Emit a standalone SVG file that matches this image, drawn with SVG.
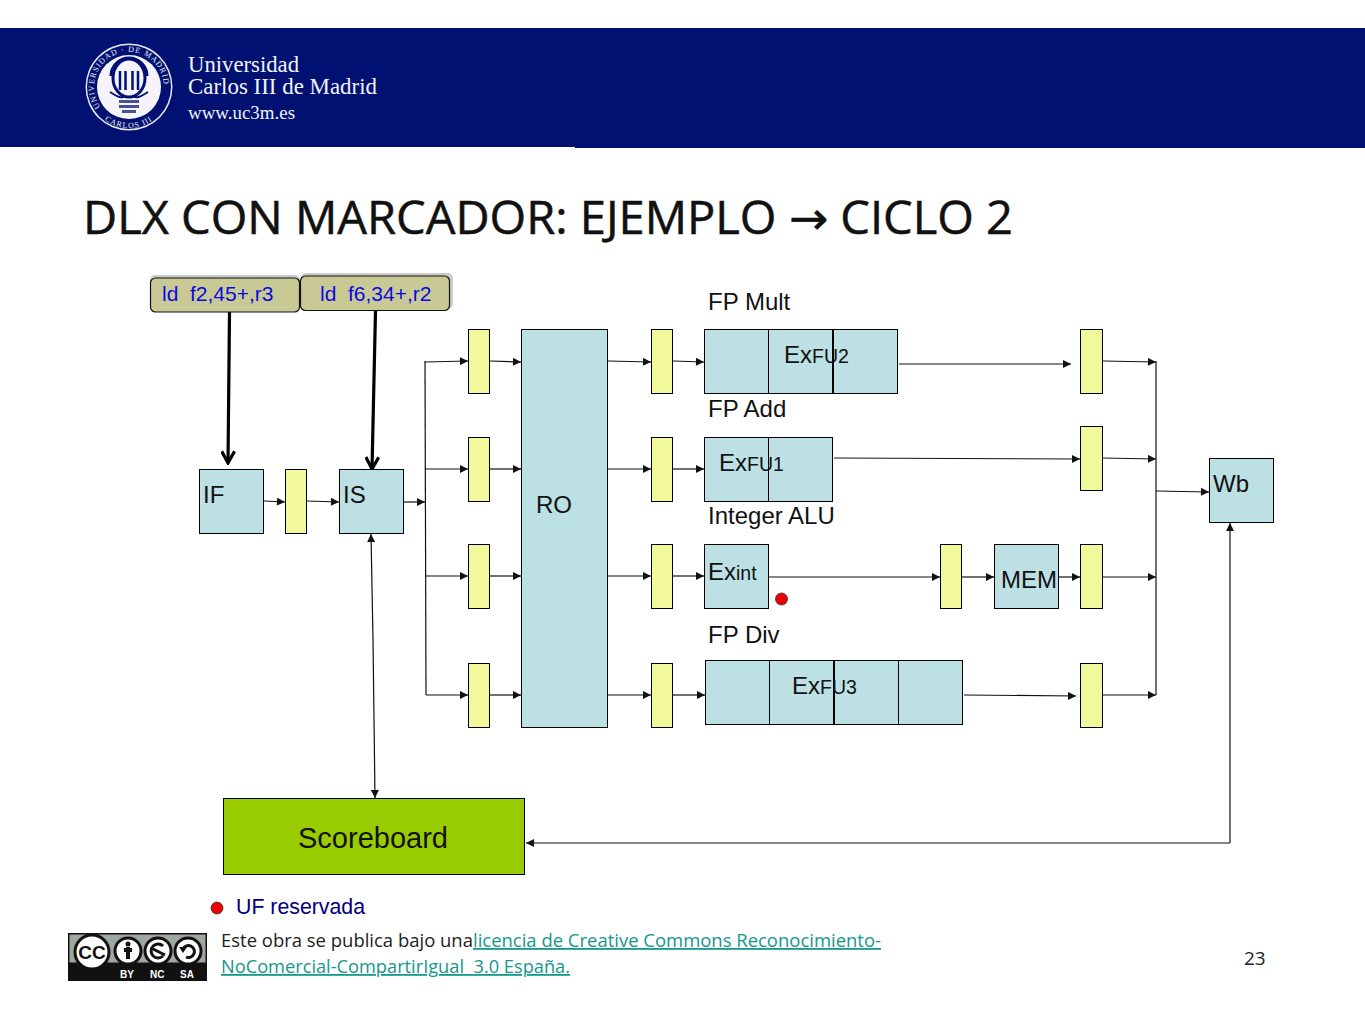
<svg xmlns="http://www.w3.org/2000/svg" width="1365" height="1024" viewBox="0 0 1365 1024">
<style>
text{font-family:"Liberation Sans",Arial,sans-serif;fill:#111}
.b{fill:#bce0e4;stroke:#000;stroke-width:1}
.y{fill:#f2f89c;stroke:#000;stroke-width:1}
.l{font-size:24px}
.s{font-size:19.500px}
.c{fill:none;stroke:#111;stroke-width:1.2}
.t{fill:#c9c996;stroke:#111;stroke-width:1.2}
.bl{font-size:21px;fill:#0a0ae0}
.logo{font-family:"Liberation Serif",serif;fill:#f2f2f8}
.ring{font-family:"Liberation Serif",serif;font-size:8px;fill:#f2f2f8;letter-spacing:1px}
.cal{font-family:"Open Sans","Noto Sans",sans-serif}
.lk{fill:#14988c;text-decoration:underline}
.bd{font-size:10px;font-weight:bold;fill:#fff}
</style>
<defs>
<marker id="a" viewBox="0 0 10 10" refX="10" refY="5" markerWidth="9" markerHeight="8" markerUnits="userSpaceOnUse" orient="auto"><path d="M0 0L10 5L0 10Z" fill="#111"/></marker>
<marker id="o" viewBox="0 0 14 14" refX="12" refY="7" markerWidth="15" markerHeight="15" markerUnits="userSpaceOnUse" orient="auto"><path d="M1 1L12 7L1 13" fill="none" stroke="#000" stroke-width="3"/></marker>
<path id="ringu" d="M104.300 111.700A35 35 0 1 1 153.700 111.700"/>
<path id="ringl" d="M100 116A41 41 0 0 0 158 116"/>
</defs>
<rect width="1365" height="1024" fill="#fff"/>
<g id="header">
<rect x="0" y="28" width="1365" height="120" fill="#001172"/>
<rect x="0" y="147" width="575" height="1" fill="#fff"/>
<circle cx="129" cy="87" r="43.500" fill="#e8e8f2"/>
<circle cx="129" cy="87" r="42" fill="#001172"/>
<circle cx="129" cy="87" r="32" fill="#f4f4fa"/>
<path d="M111 76A18 18 0 0 1 147 76" fill="none" stroke="#001172" stroke-width="3"/>
<ellipse cx="129" cy="78" rx="16" ry="19" fill="none" stroke="#001172" stroke-width="3"/>
<path d="M120 71V90M125.500 71V90M132.500 71V90M138 71V90" stroke="#001172" stroke-width="2.500" fill="none"/>
<path d="M110 92Q122 100 124 96M148 92Q136 100 134 96" stroke="#001172" stroke-width="2" fill="none"/>
<rect x="119" y="100" width="20" height="3" fill="#4a508c"/><rect x="119" y="105" width="20" height="3" fill="#4a508c"/><rect x="122" y="110" width="14" height="3" fill="#4a508c"/>
<text class="ring"><textPath href="#ringu" startOffset="6">UNIVERSIDAD · DE MADRID</textPath></text>
<text class="ring"><textPath href="#ringl" startOffset="6">CARLOS III</textPath></text>
<text class="logo" x="188" y="72" font-size="24" textLength="111" lengthAdjust="spacingAndGlyphs">Universidad</text>
<text class="logo" x="188" y="94" font-size="24" textLength="189" lengthAdjust="spacingAndGlyphs">Carlos III de Madrid</text>
<text class="logo" x="188" y="119" font-size="18" textLength="107" lengthAdjust="spacingAndGlyphs">www.uc3m.es</text>
</g>
<text id="title" class="cal" x="83" y="234" font-size="45" textLength="930" lengthAdjust="spacingAndGlyphs" stroke="#111" stroke-width=".5">DLX CON MARCADOR: EJEMPLO <tspan style="font-family:'DejaVu Sans',sans-serif">→</tspan> CICLO 2</text>
<g id="connectors">
<path class="c" marker-end="url(#a)" d="M264 501L285 502"/>
<path class="c" marker-end="url(#a)" d="M307 501L339 502"/>
<path class="c" marker-end="url(#a)" d="M404 502L425 502"/>
<path class="c" d="M425 361L426 695"/>
<path class="c" marker-end="url(#a)" d="M425 362L468 361"/>
<path class="c" marker-end="url(#a)" d="M425 469H468"/>
<path class="c" marker-end="url(#a)" d="M425 576H468"/>
<path class="c" marker-end="url(#a)" d="M426 695H468"/>
<path class="c" marker-end="url(#a)" d="M490 361L521 362"/>
<path class="c" marker-end="url(#a)" d="M490 469H521"/>
<path class="c" marker-end="url(#a)" d="M490 576H521"/>
<path class="c" marker-end="url(#a)" d="M490 695H521"/>
<path class="c" marker-end="url(#a)" d="M608 361L651 362"/>
<path class="c" marker-end="url(#a)" d="M608 469H651"/>
<path class="c" marker-end="url(#a)" d="M608 576H651"/>
<path class="c" marker-end="url(#a)" d="M608 695H651"/>
<path class="c" marker-end="url(#a)" d="M673 361L704 362"/>
<path class="c" marker-end="url(#a)" d="M673 469H704"/>
<path class="c" marker-end="url(#a)" d="M673 576H704"/>
<path class="c" marker-end="url(#a)" d="M673 695H705"/>
<path class="c" marker-end="url(#a)" d="M899 364H1071"/>
<path class="c" marker-end="url(#a)" d="M834 458L1080 459"/>
<path class="c" marker-end="url(#a)" d="M769 577H940"/>
<path class="c" marker-end="url(#a)" d="M962 577H994"/>
<path class="c" marker-end="url(#a)" d="M1059 577H1080"/>
<path class="c" marker-end="url(#a)" d="M964 695L1076 696"/>
<path class="c" marker-end="url(#a)" d="M1103 361L1156 362"/>
<path class="c" marker-end="url(#a)" d="M1103 458L1156 459"/>
<path class="c" marker-end="url(#a)" d="M1103 577H1156"/>
<path class="c" marker-end="url(#a)" d="M1103 695H1156"/>
<path class="c" d="M1156 361V695"/>
<path class="c" marker-end="url(#a)" d="M1156 491L1209 492"/>
<path class="c" marker-end="url(#a)" d="M373 640L375 798"/>
<path class="c" marker-end="url(#a)" d="M373 640L371 534"/>
<path class="c" marker-end="url(#a)" d="M1230 843H526"/>
<path class="c" marker-end="url(#a)" d="M1230 843V523"/>
<path fill="none" stroke="#000" stroke-width="3.200" marker-end="url(#o)" d="M229.500 311L228 463"/>
<path fill="none" stroke="#000" stroke-width="3.200" marker-end="url(#o)" d="M375.500 311L372 469"/>
</g>
<g id="instr1"><rect x="150" y="275" width="150" height="35" rx="5" fill="#ccc"/><rect class="t" x="150.500" y="278" width="149" height="34" rx="5"/><text class="bl" x="162" y="301" xml:space="preserve">ld  f2,45+,r3</text></g>
<g id="instr2"><rect x="301" y="273" width="152" height="36" rx="5" fill="#ccc"/><rect class="t" x="300.500" y="276" width="149" height="34.500" rx="5"/><text class="bl" x="320" y="301" xml:space="preserve">ld  f6,34+,r2</text></g>
<g id="IF"><rect class="b" x="199.500" y="469.500" width="64" height="64"/><text class="l" x="203" y="503">IF</text></g>
<g id="latch0"><rect class="y" x="285.500" y="469.500" width="21" height="64"/></g>
<g id="IS"><rect class="b" x="339.500" y="469.500" width="64" height="64"/><text class="l" x="343" y="503">IS</text></g>
<g id="latchesA">
<rect class="y" x="468.500" y="329.500" width="21" height="64"/><rect class="y" x="468.500" y="437.500" width="21" height="64"/><rect class="y" x="468.500" y="544.500" width="21" height="64"/><rect class="y" x="468.500" y="663.500" width="21" height="64"/>
</g>
<g id="RO"><rect class="b" x="521.500" y="329.500" width="86" height="398"/><text class="l" x="536" y="513">RO</text></g>
<g id="latchesB">
<rect class="y" x="651.500" y="329.500" width="21" height="64"/><rect class="y" x="651.500" y="437.500" width="21" height="64"/><rect class="y" x="651.500" y="544.500" width="21" height="64"/><rect class="y" x="651.500" y="663.500" width="21" height="64"/>
</g>
<g id="FU2"><rect class="b" x="704.500" y="329.500" width="193" height="64"/><path d="M768.500 329V393" stroke="#000"/><path d="M833 329V393" stroke="#000" stroke-width="2"/><text class="l" x="784" y="363">Ex<tspan class="s">FU2</tspan></text></g>
<g id="FU1"><rect class="b" x="704.500" y="437.500" width="128" height="64"/><path d="M768.500 437V501" stroke="#000"/><text class="l" x="719" y="471">Ex<tspan class="s">FU1</tspan></text></g>
<g id="EXint"><rect class="b" x="704.500" y="544.500" width="64" height="64"/><text class="l" x="708" y="580">Ex<tspan class="s">int</tspan></text></g>
<g id="FU3"><rect class="b" x="705.500" y="660.500" width="257" height="64"/><path d="M769.500 660V724M898.500 660V724" stroke="#000"/><path d="M834 660V724" stroke="#000" stroke-width="2"/><text class="l" x="792" y="694">Ex<tspan class="s">FU3</tspan></text></g>
<g id="labels"><text class="l" x="708" y="310">FP Mult</text><text class="l" x="708" y="417">FP Add</text><text class="l" x="708" y="524">Integer ALU</text><text class="l" x="708" y="643">FP Div</text></g>
<g id="latch-mem"><rect class="y" x="940.500" y="544.500" width="21" height="64"/></g>
<g id="MEM"><rect class="b" x="994.500" y="544.500" width="64" height="64"/><text class="l" x="1001" y="588">MEM</text></g>
<g id="latchesC">
<rect class="y" x="1080.500" y="329.500" width="22" height="64"/><rect class="y" x="1080.500" y="426.500" width="22" height="64"/><rect class="y" x="1080.500" y="544.500" width="22" height="64"/><rect class="y" x="1080.500" y="663.500" width="22" height="64"/>
</g>
<g id="WB"><rect class="b" x="1209.500" y="458.500" width="64" height="64"/><text class="l" x="1213" y="492">Wb</text></g>
<g id="scoreboard"><rect x="223.500" y="798.500" width="301" height="76" fill="#99cc00" stroke="#000"/><text x="373" y="848" font-size="29" text-anchor="middle">Scoreboard</text></g>
<circle id="dot1" cx="781.500" cy="599" r="6" fill="#ee0000" stroke="#333" stroke-width=".8"/>
<g id="legend"><circle cx="217" cy="908" r="6" fill="#ee0000" stroke="#333" stroke-width=".8"/><text x="236" y="914" font-size="21.300" style="fill:#00007a">UF reservada</text></g>
<g id="cc">
<rect x="68" y="933" width="139" height="48" fill="#111"/>
<rect x="69.500" y="934.500" width="136" height="28" fill="#a0a6a0"/>
<g fill="#fff" stroke="#111" stroke-width="3"><circle cx="92" cy="952" r="17"/><circle cx="128" cy="951" r="13"/><circle cx="158" cy="951" r="13"/><circle cx="188" cy="951" r="13"/></g>
<circle cx="128" cy="944" r="2.500" fill="#111"/><path d="M128 947V959M124 950H132" fill="none" stroke="#111" stroke-width="4"/>
<path d="M163 946A7 7 0 1 0 163 956M151 948L165 955" fill="none" stroke="#111" stroke-width="3"/>
<path d="M183 949A6 6 0 1 1 186 957" fill="none" stroke="#111" stroke-width="3"/><path d="M179 947H187L183 953Z" fill="#111"/>
<text x="92" y="959" font-size="19" font-weight="bold" text-anchor="middle">CC</text>
<text class="bd" x="120" y="978" style="fill:#fff">BY</text><text class="bd" x="150" y="978" style="fill:#fff">NC</text><text class="bd" x="180" y="978" style="fill:#fff">SA</text>
</g>
<g id="footer">
<text class="cal" x="221" y="947" font-size="18" textLength="660" lengthAdjust="spacingAndGlyphs" style="fill:#222">Este obra se publica bajo una<tspan class="lk">licencia de Creative Commons Reconocimiento-</tspan></text>
<text class="cal lk" x="221" y="973" font-size="18" textLength="349" lengthAdjust="spacingAndGlyphs" xml:space="preserve">NoComercial-CompartirIgual  3.0 España.</text>
<text class="cal" x="1244" y="965" font-size="19" style="fill:#222">23</text>
</g>
</svg>
